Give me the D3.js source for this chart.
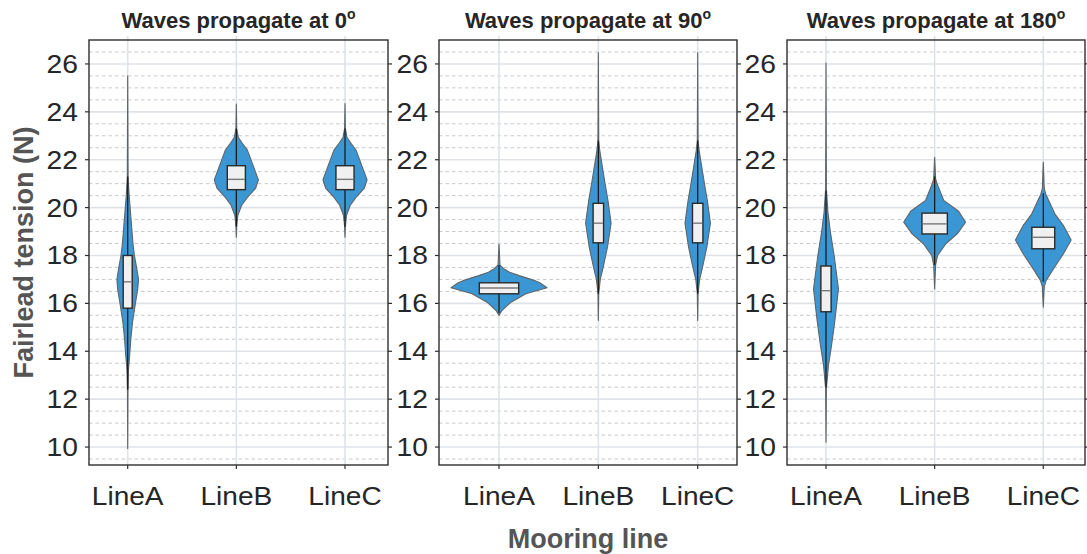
<!DOCTYPE html>
<html>
<head>
<meta charset="utf-8">
<script src="https://cdn.jsdelivr.net/npm/d3@7"></script>
<style>
  html, body { margin: 0; padding: 0; background: #fff; }
  svg { display: block; font-family: "Liberation Sans", Arial, Helvetica, sans-serif; }
</style>
</head>
<body>
<svg id="chart" width="1087" height="554"></svg>
<script>
// ---- data ----------------------------------------------------------------
const lines = ["LineA", "LineB", "LineC"];
const headings = [0, 90, 180];
const yTicks = [10, 12, 14, 16, 18, 20, 22, 24, 26];
const yMinorStep = 0.5;
const yDomain = [9.25, 27];

// box statistics, one entry per mooring line [LineA, LineB, LineC]
const q1_0 = [15.8, 20.75, 20.75];
const median_0 = [16.9, 21.18, 21.18];
const q3_0 = [18.0, 21.75, 21.75];
const whiskLo_0 = [12.4, 19.2, 19.2];
const whiskHi_0 = [21.3, 23.3, 23.3];

const q1_90 = [16.4, 18.53, 18.53];
const median_90 = [16.64, 19.35, 19.35];
const q3_90 = [16.86, 20.18, 20.18];
const whiskLo_90 = [15.6, 16.4, 16.4];
const whiskHi_90 = [17.6, 22.8, 22.8];

const q1_180 = [15.65, 18.9, 18.28];
const median_180 = [16.53, 19.32, 18.76];
const q3_180 = [17.56, 19.77, 19.18];
const whiskLo_180 = [12.5, 17.6, 16.9];
const whiskHi_180 = [20.7, 21.3, 20.6];

// kernel density profiles: [tension (N), relative density]
const dens0A = [[25.5,0],[21.3,0.008],[20.5,0.03],[19.5,0.07],[18.5,0.11],[18.0,0.14],[17.5,0.185],[17.0,0.225],[16.6,0.21],[16.0,0.16],[15.2,0.10],[14.5,0.065],[13.8,0.04],[13.2,0.015],[12.3,0.005],[9.94,0]];
const dens0B = [[24.33,0],[23.3,0.008],[22.94,0.04],[22.7,0.12],[22.4,0.23],[21.7,0.36],[21.16,0.46],[20.8,0.40],[20.43,0.23],[20.1,0.11],[19.67,0.03],[19.2,0.008],[18.76,0]];
const dens0C = [[24.35,0],[23.3,0.008],[22.94,0.04],[22.7,0.12],[22.4,0.23],[21.7,0.36],[21.16,0.46],[20.8,0.40],[20.43,0.23],[20.1,0.11],[19.67,0.03],[19.2,0.008],[18.76,0]];

const dens90A = [[18.48,0],[17.6,0.02],[17.45,0.10],[17.3,0.22],[17.16,0.42],[16.95,0.75],[16.86,0.85],[16.65,1.0],[16.4,0.56],[16.05,0.25],[15.7,0.06],[15.5,0]];
const dens90B = [[26.48,0],[22.8,0.008],[22.38,0.03],[21.0,0.14],[20.3,0.20],[19.35,0.265],[18.35,0.19],[17.5,0.10],[17.0,0.04],[16.4,0.008],[15.29,0]];
const dens90C = [[26.48,0],[22.8,0.008],[22.38,0.03],[21.0,0.14],[20.3,0.20],[19.35,0.265],[18.35,0.19],[17.5,0.10],[17.0,0.04],[16.4,0.008],[15.29,0]];

const dens180A = [[26.04,0],[20.78,0.008],[19.8,0.04],[19.0,0.09],[18.0,0.17],[16.6,0.26],[15.2,0.18],[14.24,0.115],[13.4,0.05],[12.44,0.008],[10.2,0]];
const dens180B = [[22.1,0],[21.2,0.02],[21.0,0.05],[20.3,0.19],[19.85,0.5],[19.39,0.645],[18.9,0.47],[18.5,0.24],[18.0,0.06],[17.6,0.02],[16.6,0]];
const dens180C = [[21.9,0],[20.8,0.02],[20.57,0.05],[19.74,0.24],[19.25,0.42],[18.65,0.58],[18.07,0.42],[17.5,0.23],[16.96,0.06],[16.7,0.02],[15.84,0]];

// ---- assemble panels -----------------------------------------------------
const panelsData = [
  { heading: headings[0], q1: q1_0, med: median_0, q3: q3_0, lo: whiskLo_0, hi: whiskHi_0, dens: [dens0A, dens0B, dens0C] },
  { heading: headings[1], q1: q1_90, med: median_90, q3: q3_90, lo: whiskLo_90, hi: whiskHi_90, dens: [dens90A, dens90B, dens90C] },
  { heading: headings[2], q1: q1_180, med: median_180, q3: q3_180, lo: whiskLo_180, hi: whiskHi_180, dens: [dens180A, dens180B, dens180C] }
];

// ---- layout --------------------------------------------------------------
const plotTop = 40, plotBottom = 465;
const panelBoxes = [
  { left: 89,  width: 299, inset: [38.7, 256] },
  { left: 439, width: 298, inset: [60, 258.7] },
  { left: 787, width: 298, inset: [39, 256.3] }
];

const FILL = "#3a97d4";
const GRID = "#dfe3e8";
const MINOR = "#c9c9c9";
const AXIS = "#2e2e2e";
const TEXT = "#262626";
const STRETCH = 1.13;   // the chart's lettering is set slightly wide

const svg = d3.select("#chart");
const y = d3.scaleLinear().domain(yDomain).range([plotBottom, plotTop]);
const densW = d3.scaleLinear().domain([0, 1]).range([0, 48]);
const minorTicks = d3.range(Math.ceil(yDomain[0] / yMinorStep) * yMinorStep, yDomain[1], yMinorStep)
  .filter(v => !yTicks.includes(v));

panelsData.forEach((pd, pi) => {
  const pb = panelBoxes[pi];
  const x = d3.scalePoint().domain(lines).range([pb.left + pb.inset[0], pb.left + pb.inset[1]]);
  const g = svg.append("g");
  const right = pb.left + pb.width;

  // minor dashed grid
  g.selectAll(".minor").data(minorTicks).join("line")
    .attr("x1", pb.left).attr("x2", right)
    .attr("y1", d => y(d)).attr("y2", d => y(d))
    .attr("stroke", MINOR).attr("stroke-width", 1).attr("stroke-dasharray", "3.5,3");

  // major solid grid
  g.selectAll(".major").data(yTicks).join("line")
    .attr("x1", pb.left).attr("x2", right)
    .attr("y1", d => y(d)).attr("y2", d => y(d))
    .attr("stroke", GRID).attr("stroke-width", 1.6);

  // vertical grid at each category (with short marks above the frame)
  g.selectAll(".vgrid").data(lines).join("line")
    .attr("x1", d => x(d)).attr("x2", d => x(d))
    .attr("y1", plotTop - 4).attr("y2", plotBottom)
    .attr("stroke", GRID).attr("stroke-width", 1.6);

  // violins
  lines.forEach((ln, i) => {
    const cx = x(ln);
    const prof = pd.dens[i];
    const area = d3.area()
      .y(d => y(d[0]))
      .x0(d => cx - densW(d[1]))
      .x1(d => cx + densW(d[1]))
      .curve(d3.curveLinear);
    g.append("path").datum(prof)
      .attr("d", area)
      .attr("fill", FILL)
      .attr("stroke", "#5f6468").attr("stroke-width", 1.1).attr("stroke-linejoin", "round");

    // whisker
    g.append("line")
      .attr("x1", cx).attr("x2", cx)
      .attr("y1", y(pd.hi[i])).attr("y2", y(pd.lo[i]))
      .attr("stroke", "#1c1c1c").attr("stroke-width", 1.3);

    // box width follows the violin's widest point
    const maxD = d3.max(prof, d => d[1]);
    const bw = Math.max(9, densW(maxD) * 2 * 0.41);
    g.append("rect")
      .attr("x", cx - bw / 2).attr("width", bw)
      .attr("y", y(pd.q3[i])).attr("height", y(pd.q1[i]) - y(pd.q3[i]))
      .attr("fill", "#f0f0f0").attr("stroke", "#2a2a2a").attr("stroke-width", 1.4);
    g.append("line")
      .attr("x1", cx - bw / 2 + 0.7).attr("x2", cx + bw / 2 - 0.7)
      .attr("y1", y(pd.med[i])).attr("y2", y(pd.med[i]))
      .attr("stroke", "#7a7a7a").attr("stroke-width", 1.4);
  });

  // frame
  g.append("rect")
    .attr("x", pb.left).attr("y", plotTop).attr("width", pb.width).attr("height", plotBottom - plotTop)
    .attr("fill", "none").attr("stroke", AXIS).attr("stroke-width", 1.4);

  // y ticks on both sides, labels on the left
  g.selectAll(".ytickL").data(yTicks).join("line")
    .attr("x1", pb.left - 4).attr("x2", pb.left)
    .attr("y1", d => y(d)).attr("y2", d => y(d))
    .attr("stroke", AXIS).attr("stroke-width", 1.2);
  g.selectAll(".ytickR").data(yTicks).join("line")
    .attr("x1", right).attr("x2", right + 4)
    .attr("y1", d => y(d)).attr("y2", d => y(d))
    .attr("stroke", AXIS).attr("stroke-width", 1.2);
  g.selectAll(".ylab").data(yTicks).join("text")
    .attr("transform", d => `translate(${pb.left - 11},${y(d)}) scale(${STRETCH},1)`)
    .attr("dy", "0.36em")
    .attr("text-anchor", "end").attr("font-size", 25).attr("fill", TEXT)
    .text(d => d);

  // x ticks and labels
  g.selectAll(".xtick").data(lines).join("line")
    .attr("x1", d => x(d)).attr("x2", d => x(d))
    .attr("y1", plotBottom).attr("y2", plotBottom + 4)
    .attr("stroke", AXIS).attr("stroke-width", 1.2);
  g.selectAll(".xlab").data(lines).join("text")
    .attr("transform", d => `translate(${x(d)},505) scale(1.08,1)`)
    .attr("text-anchor", "middle").attr("font-size", 26).attr("fill", TEXT)
    .text(d => d);

  // panel heading with superscript degree mark
  const t = g.append("text")
    .attr("x", pb.left + pb.width / 2).attr("y", 28)
    .attr("text-anchor", "middle").attr("font-size", 22).attr("font-weight", "bold").attr("fill", TEXT);
  t.append("tspan").text("Waves propagate at " + pd.heading);
  t.append("tspan").attr("dy", -9).attr("font-size", 14).text("o");
});

// axis titles
svg.append("text")
  .attr("x", panelBoxes[1].left + panelBoxes[1].width / 2).attr("y", 548)
  .attr("text-anchor", "middle").attr("font-size", 27).attr("font-weight", "bold").attr("fill", "#555")
  .text("Mooring line");
svg.append("text")
  .attr("transform", `translate(33, ${(plotTop + plotBottom) / 2}) rotate(-90)`)
  .attr("text-anchor", "middle").attr("font-size", 27).attr("font-weight", "bold").attr("fill", "#555")
  .text("Fairlead tension (N)");
</script>
</body>
</html>
